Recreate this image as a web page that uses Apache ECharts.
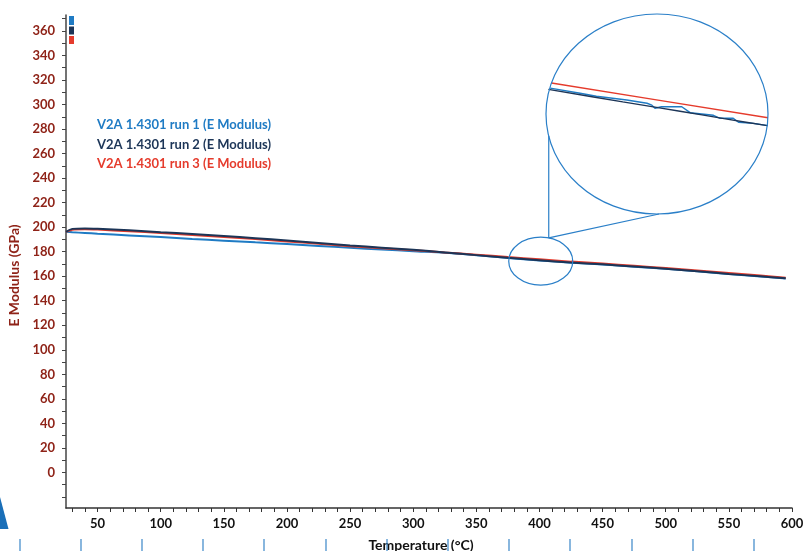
<!DOCTYPE html>
<html><head><meta charset="utf-8">
<script src="https://cdn.jsdelivr.net/npm/echarts@6/dist/echarts.min.js"></script>
<style>html,body{margin:0;padding:0;background:#fff}#c{width:804px;height:551px}</style>
</head><body><div id="c"></div>
<script>
// ---- data ----
const temps = [25, 30, 40, 50, 75, 100, 125, 150, 175, 200, 225, 250, 275, 300, 325, 350, 375, 400, 425, 450, 475, 500, 525, 550, 575, 595];
const run1 = [196.2, 195.8, 195.3, 194.7, 193.3, 191.9, 190.4, 189.0, 187.6, 186.2, 184.7, 183.2, 181.8, 180.4, 179.1, 177.1, 174.9, 172.9, 171.0, 169.6, 167.8, 166.0, 164.0, 161.8, 159.8, 158.2];
const run2 = [196.2, 198.6, 199.0, 198.7, 197.4, 195.9, 194.4, 192.8, 191.0, 189.1, 187.1, 185.1, 183.3, 181.5, 179.4, 177.2, 175.0, 173.0, 171.1, 169.7, 167.9, 166.1, 164.1, 161.9, 159.9, 158.3];
const run3 = [196.2, 197.9, 198.3, 198.0, 196.7, 195.2, 193.7, 192.0, 190.3, 188.4, 186.4, 184.5, 182.8, 181.2, 179.4, 177.6, 175.6, 173.8, 171.9, 170.3, 168.5, 166.7, 164.7, 162.6, 160.5, 158.7];
// zoomed inset (raw detail around 375-425 °C)
const insetT1 = [375.5, 382.3, 386.0, 392.9, 397.5, 398.6, 399.3, 400.8, 405.4, 407.3, 412.6, 414.1, 417.1, 418.3, 421.7, 424.9];
const insetRun1 = [175.07, 174.52, 174.20, 173.80, 173.45, 173.25, 172.91, 173.08, 173.08, 172.44, 172.16, 171.84, 171.84, 171.41, 171.30, 171.05];
const insetT2 = [375.1, 385, 392, 400, 405, 410, 415, 420, 424.9];
const insetRun2 = [174.94, 174.15, 173.6, 172.98, 172.6, 172.2, 171.8, 171.42, 171.05];
const insetT3 = [375.8, 400, 425];
const insetRun3 = [175.62, 173.78, 171.9];
const seriesNames = ['V2A 1.4301 run 1 (E Modulus)', 'V2A 1.4301 run 2 (E Modulus)', 'V2A 1.4301 run 3 (E Modulus)'];
const colors = ['#1f7bc4', '#1c3557', '#e53b2c'];
const xTickLabels = [50, 100, 150, 200, 250, 300, 350, 400, 450, 500, 550, 600];
const xTicks = [30, 40, 50, 60, 70, 80, 90, 100, 110, 120, 130, 140, 150, 160, 170, 180, 190, 200, 210, 220, 230, 240, 250, 260, 270, 280, 290, 300, 310, 320, 330, 340, 350, 360, 370, 380, 390, 400, 410, 420, 430, 440, 450, 460, 470, 480, 490, 500, 510, 520, 530, 540, 550, 560, 570, 580, 590, 600];
const yTickLabels = [0, 20, 40, 60, 80, 100, 120, 140, 160, 180, 200, 220, 240, 260, 280, 300, 320, 340, 360];
const yTicks = [-20, -10, 0, 10, 20, 30, 40, 50, 60, 70, 80, 90, 100, 110, 120, 130, 140, 150, 160, 170, 180, 190, 200, 210, 220, 230, 240, 250, 260, 270, 280, 290, 300, 310, 320, 330, 340, 350, 360, 370];

const zip = (a, b) => a.map((v, i) => [v, b[i]]);
const FONT = 'Lato';
const chart = echarts.init(document.getElementById('c'), null, {renderer: 'canvas'});

const mainRuns = [run1, run2, run3];
const insetTs = [insetT1, insetT2, insetT3];
const insetRuns = [insetRun1, insetRun2, insetRun3];
const zOrder = [3, 5, 4];

const series = [];
mainRuns.forEach((r, i) => series.push({
  name: seriesNames[i], type: 'line', xAxisIndex: 0, yAxisIndex: 0,
  data: zip(temps, r), showSymbol: false, smooth: 0.3,
  lineStyle: {color: colors[i], width: 2}, itemStyle: {color: colors[i]}, z: zOrder[i]
}));
insetRuns.forEach((r, i) => series.push({
  name: seriesNames[i], type: 'line', xAxisIndex: 1, yAxisIndex: 1,
  data: zip(insetTs[i], r), showSymbol: false,
  lineStyle: {color: colors[i], width: 1.4}, itemStyle: {color: colors[i]}, z: 6
}));

chart.setOption({
  animation: false,
  backgroundColor: '#fff',
  textStyle: {fontFamily: FONT},
  legend: {
    data: seriesNames.map((n, i) => ({name: n, textStyle: {color: colors[i]}})),
    orient: 'vertical', left: 86, top: 113, itemWidth: 0, itemHeight: 0, itemGap: 5,
    selectedMode: false,
    textStyle: {fontFamily: FONT, fontWeight: 'bold', fontSize: 13, lineHeight: 14.5}
  },
  grid: [
    {left: 66, top: 15, width: 726, height: 493, containLabel: false, outerBoundsMode: 'none'},
    {left: 548, top: 14, width: 220, height: 200, containLabel: false, outerBoundsMode: 'none'}
  ],
  xAxis: [{
    type: 'value', gridIndex: 0, min: 25, max: 600,
    name: 'Temperature (°C)', nameLocation: 'middle', nameGap: 30,
    nameTextStyle: {color: '#111', fontWeight: 'bold', fontSize: 14, fontFamily: FONT, padding: [0, 16, 0, 0]},
    axisLine: {show: true, onZero: false, lineStyle: {color: '#333', width: 1.5}},
    axisTick: {show: true, customValues: xTicks, length: 4, lineStyle: {color: '#333'}},
    axisLabel: {customValues: xTickLabels, color: '#111', fontWeight: 'bold', fontSize: 13, margin: 9, fontFamily: FONT},
    splitLine: {show: false}
  }, {
    type: 'value', gridIndex: 1, min: 375, max: 425, show: false
  }],
  yAxis: [{
    type: 'value', gridIndex: 0, min: -29, max: 373,
    name: 'E Modulus (GPa)', nameLocation: 'middle', nameGap: 38,
    nameTextStyle: {color: '#8f2318', fontWeight: 'bold', fontSize: 14, fontFamily: FONT, padding: [0, 28, 0, 0]},
    axisLine: {show: true, onZero: false, lineStyle: {color: '#444', width: 1.5}},
    axisTick: {show: true, customValues: yTicks, length: 4, lineStyle: {color: '#444'}},
    axisLabel: {customValues: yTickLabels, color: '#8f2318', fontWeight: 'bold', fontSize: 13, margin: 11, fontFamily: FONT},
    splitLine: {show: false}
  }, {
    type: 'value', gridIndex: 1, min: 161.6, max: 183.0, show: false
  }],
  series: series
});

// annotations: magnifier ellipse around the zoomed region and inset frame
const c = chart.convertToPixel({xAxisIndex: 0, yAxisIndex: 0}, [401, 172.3]);
const big = {cx: 657, cy: 114, rx: 111, ry: 100};
const small = {cx: c[0], cy: c[1], rx: 32, ry: 24};
const sx = small.cx + 8;
const sy = small.cy - small.ry * Math.sqrt(1 - Math.pow(8 / small.rx, 2));
const bx = sx;
const by = big.cy + big.ry * Math.sqrt(Math.max(0, 1 - Math.pow((bx - big.cx) / big.rx, 2)));
const annColor = '#2a7fc8';
const deco = [];
[20, 81, 142, 203, 264, 326, 387, 448, 509, 570, 632, 693, 754].forEach(x => deco.push({
  type: 'line', shape: {x1: x, y1: 539, x2: x, y2: 551}, style: {stroke: '#3a86c8', lineWidth: 1.2}, z: 10
}));
chart.setOption({
  graphic: [
    {type: 'ellipse', shape: small, style: {fill: 'none', stroke: annColor, lineWidth: 1.2}, z: 7},
    {type: 'ellipse', shape: big, style: {fill: 'none', stroke: annColor, lineWidth: 1.2}, z: 7},
    {type: 'line', shape: {x1: sx, y1: sy, x2: bx, y2: by}, style: {stroke: annColor, lineWidth: 1.2}, z: 7},
    {type: 'line', shape: {x1: sx, y1: sy, x2: big.cx + 2, y2: big.cy + big.ry}, style: {stroke: annColor, lineWidth: 1.2}, z: 7},
    {type: 'rect', shape: {x: 69, y: 16, width: 5, height: 9}, style: {fill: colors[0]}},
    {type: 'rect', shape: {x: 69, y: 26.5, width: 5, height: 8}, style: {fill: colors[1]}},
    {type: 'rect', shape: {x: 69, y: 36, width: 5, height: 8}, style: {fill: colors[2]}},
    {type: 'polygon', shape: {points: [[0, 497], [8.5, 529], [0, 529]]}, style: {fill: '#1a6fb8'}},
    ...deco
  ]
});
</script>
</body></html>
